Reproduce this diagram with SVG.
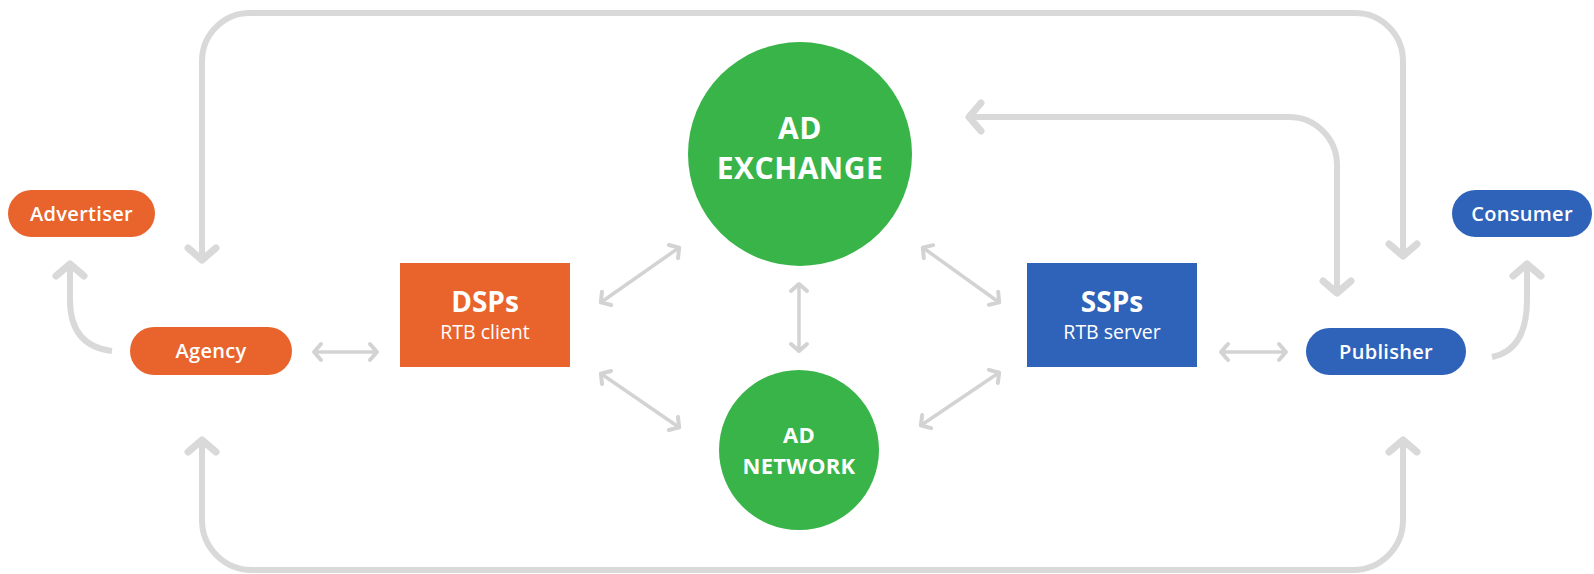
<svg xmlns="http://www.w3.org/2000/svg" width="1594" height="574" viewBox="0 0 1594 574">
<defs>
<style>
.big{fill:none;stroke:#d9d9d9;stroke-width:6}
.sm{fill:none;stroke:#d3d3d3;stroke-width:3.5}
.or{fill:#e8642c}
.bl{fill:#2f63b9}
.gr{fill:#38b449}
.t{font-family:"Open Sans","Noto Sans",sans-serif;fill:#ffffff;text-anchor:middle}
.pill{font-size:20px;font-weight:600;letter-spacing:0.3px}
.box{font-size:28px;font-weight:700}
.sub{font-size:19.5px;font-weight:400}
.ex{font-size:30px;font-weight:700;letter-spacing:0.5px}
.nw{font-size:22px;font-weight:700;letter-spacing:0.3px}
</style>
<marker id="hb" markerUnits="userSpaceOnUse" viewBox="-30 -20 40 40" markerWidth="40" markerHeight="40" refX="0" refY="0" orient="auto-start-reverse">
<path d="M-14,-14 L-2,0 L-14,14" fill="none" stroke="#d9d9d9" stroke-width="7" stroke-linecap="round" stroke-linejoin="round"/>
</marker>
<marker id="hs" markerUnits="userSpaceOnUse" viewBox="-20 -12 24 24" markerWidth="24" markerHeight="24" refX="0" refY="0" orient="auto-start-reverse">
<path d="M-8,-8 L-1,0 L-8,8" fill="none" stroke="#d3d3d3" stroke-width="4" stroke-linecap="round" stroke-linejoin="round"/>
</marker>
</defs>
<rect width="1594" height="574" fill="#ffffff"/>
<g id="connectors">
<path class="big" d="M202,262 L202,61 A48,48 0 0 1 250,13 L1355,13 A48,48 0 0 1 1403,61 L1403,258" marker-start="url(#hb)" marker-end="url(#hb)"/>
<path class="big" d="M967,117 L1289,117 A48,48 0 0 1 1337,165 L1337,295" marker-start="url(#hb)" marker-end="url(#hb)"/>
<path class="big" d="M202,438 L202,520 A50,50 0 0 0 252,570 L1353,570 A50,50 0 0 0 1403,520 L1403,438" marker-start="url(#hb)" marker-end="url(#hb)"/>
<path class="big" d="M112,351 Q70,346 70,300 L70,262" marker-end="url(#hb)"/>
<path class="big" d="M1492,357 Q1527,350 1527,300 L1527,262" marker-end="url(#hb)"/>
<path class="sm" d="M313,352 L378,352" marker-start="url(#hs)" marker-end="url(#hs)"/>
<path class="sm" d="M1220,352 L1287,352" marker-start="url(#hs)" marker-end="url(#hs)"/>
<path class="sm" d="M799,283 L799,352" marker-start="url(#hs)" marker-end="url(#hs)"/>
<path class="sm" d="M600,303 L680,247" marker-start="url(#hs)" marker-end="url(#hs)"/>
<path class="sm" d="M600,373 L680,428" marker-start="url(#hs)" marker-end="url(#hs)"/>
<path class="sm" d="M922,247 L1000,303" marker-start="url(#hs)" marker-end="url(#hs)"/>
<path class="sm" d="M920,426 L1000,372" marker-start="url(#hs)" marker-end="url(#hs)"/>
</g>
<g id="advertiser"><rect class="or" x="8" y="190" width="147" height="47" rx="23.5"/><text class="t pill" x="81.5" y="220.5">Advertiser</text></g>
<g id="agency"><rect class="or" x="130" y="327" width="162" height="48" rx="24"/><text class="t pill" x="211" y="358">Agency</text></g>
<g id="dsps"><rect class="or" x="400" y="263" width="170" height="104"/><text class="t box" x="485" y="312">DSPs</text><text class="t sub" x="485" y="339">RTB client</text></g>
<g id="adexchange"><circle class="gr" cx="800" cy="154" r="112"/><text class="t ex" x="800" y="139">AD</text><text class="t ex" x="800" y="179">EXCHANGE</text></g>
<g id="adnetwork"><circle class="gr" cx="799" cy="450" r="80"/><text class="t nw" x="799" y="443">AD</text><text class="t nw" x="799" y="474">NETWORK</text></g>
<g id="ssps"><rect class="bl" x="1027" y="263" width="170" height="104"/><text class="t box" x="1112" y="312">SSPs</text><text class="t sub" x="1112" y="339">RTB server</text></g>
<g id="publisher"><rect class="bl" x="1306" y="328" width="160" height="47" rx="23.5"/><text class="t pill" x="1386" y="358.5">Publisher</text></g>
<g id="consumer"><rect class="bl" x="1452" y="190" width="140" height="47" rx="23.5"/><text class="t pill" x="1522" y="220.5">Consumer</text></g>
</svg>
